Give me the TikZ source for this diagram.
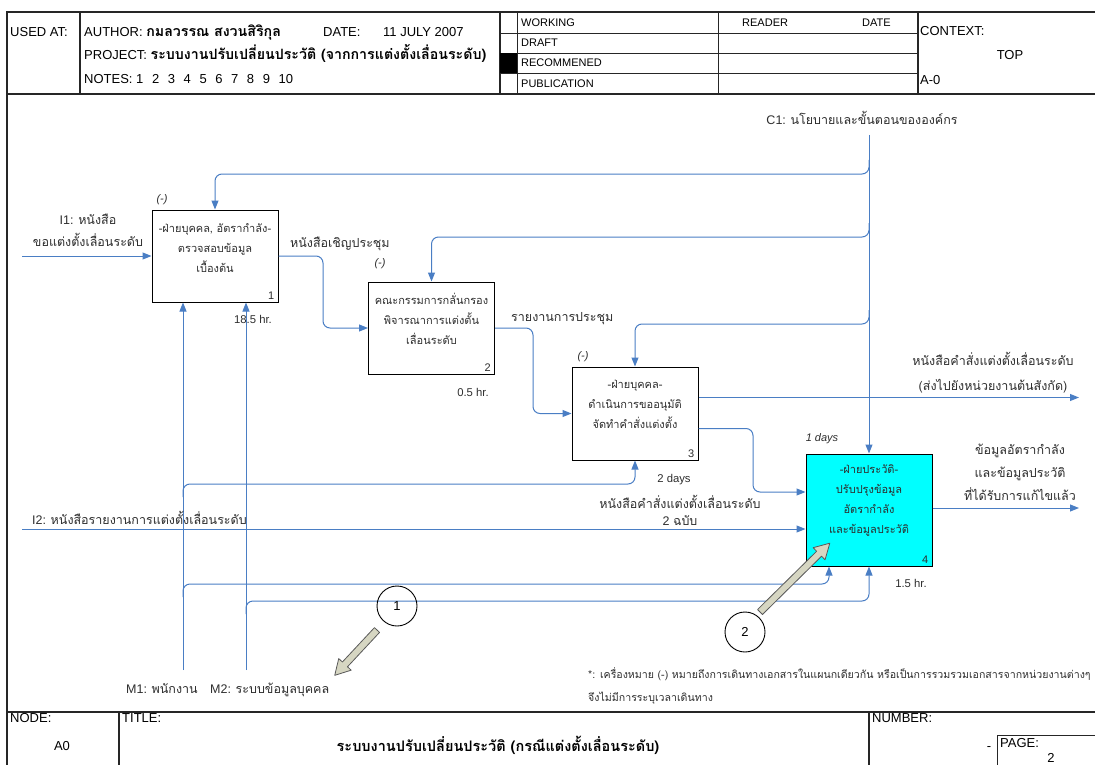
\documentclass[tikz,border=0pt]{standalone}
\usepackage{fontspec}
\setmainfont{Liberation Sans}
\newfontfamily\thfont[Script=Thai]{Loma}
\newcommand{\thtxt}[1]{{\thfont #1}}
\newcommand{\thbold}[1]{{\thfont\bfseries\fontsize{14.2}{15}\selectfont #1}}
\definecolor{flowblue}{RGB}{74,126,196}
\definecolor{ink}{RGB}{45,45,45}
\definecolor{hilite}{RGB}{0,255,255}
\definecolor{pointerfill}{RGB}{214,214,194}
\usetikzlibrary{arrows.meta,calc}

\begin{document}
\begin{tikzpicture}[x=1pt,y=-1pt,
    rule/.style={draw=black!85, line width=1.1pt},
    thin rule/.style={draw=black!85, line width=0.8pt},
    hdr/.style={anchor=base west, inner sep=0pt, font=\fontsize{13}{15}\selectfont},
    cell/.style={anchor=base west, inner sep=0pt, font=\fontsize{11}{12}\selectfont},
    act/.style={draw=black, line width=1pt, minimum width=126pt},
    acttext/.style={align=center, inner sep=0pt, text=ink, font=\thfont\fontsize{11}{20}\selectfont},
    num/.style={anchor=south east, inner sep=0pt, text=ink, font=\fontsize{11}{12}\selectfont},
    link/.style={draw=flowblue, line width=1pt, rounded corners=7pt, -{Triangle[length=9pt,width=7pt]}},
    tag/.style={inner sep=0pt, text=ink, font=\thfont\fontsize{12.5}{15}\selectfont},
    time/.style={anchor=base, inner sep=0pt, text=ink, font=\fontsize{11.3}{12}\selectfont},
    samedept/.style={anchor=base, inner sep=0pt, text=ink, font=\itshape\fontsize{11}{12}\selectfont},
    callout/.style={draw=black, line width=0.9pt, circle, minimum size=40pt, inner sep=0pt, font=\fontsize{13}{14}\selectfont},
    pointer/.style={draw=black!65, fill=pointerfill, line width=0.8pt, line join=round}
  ]
  \useasboundingbox (0,0) rectangle (1095,765);

  % form frame
  \draw[rule] (7,790) -- (7,12) -- (1120,12);
  \draw[rule] (7,94) -- (1120,94);
  \draw[rule] (7,712) -- (1120,712);
  \draw[rule] (80,12) -- (80,94);
  \draw[rule] (500,12) -- (500,94);
  \draw[thin rule] (517,12) -- (517,94);
  \draw[thin rule] (718,12) -- (718,94);
  \draw[rule] (918,12) -- (918,94);
  \foreach \r in {33,53,73}
    \draw[thin rule] (500,\r) -- (918,\r);
  \fill[black] (500,53) rectangle (517,73);
  \draw[rule] (119,712) -- (119,790);
  \draw[rule] (869,712) -- (869,790);
  \draw[thin rule] (997,790) -- (997,735) -- (1120,735);

  % header texts
  \node[hdr] (usedat) at (10,36.5) {USED AT:};
  \node[hdr] (author) at (84,36.5) {AUTHOR: \thbold{กมลวรรณ สงวนสิริกุล}};
  \node[hdr] (datekey) at (323,36.5) {DATE:};
  \node[hdr] (dateval) at (383,36.5) {11 JULY 2007};
  \node[hdr] (project) at (84,59.5) {PROJECT: \thbold{ระบบงานปรับเปลี่ยนประวัติ (จากการแต่งตั้งเลื่อนระดับ)}};
  \node[hdr] (notes) at (84,83.5) {NOTES: 1\hspace{8.6pt}2\hspace{8.6pt}3\hspace{8.6pt}4\hspace{8.6pt}5\hspace{8.6pt}6\hspace{8.6pt}7\hspace{8.6pt}8\hspace{8.6pt}9\hspace{8.6pt}10};
  \node[cell] (working) at (521,26.5) {WORKING};
  \node[cell] (draft) at (521,47) {DRAFT};
  \node[cell] (recom) at (521,67) {RECOMMENED};
  \node[cell] (public) at (521,87.5) {PUBLICATION};
  \node[cell] (reader) at (742,26.5) {READER};
  \node[cell] (rdate) at (862,26.5) {DATE};
  \node[hdr] (context) at (920,36) {CONTEXT:};
  \node[hdr, anchor=base] (top) at (1010,60) {TOP};
  \node[hdr] (azero) at (920,84.5) {A-0};

  % footer texts
  \node[hdr] (nodekey) at (10,722) {NODE:};
  \node[hdr, anchor=base] (nodeval) at (62,750) {A0};
  \node[hdr] (titlekey) at (122,722) {TITLE:};
  \node[hdr, anchor=base] (titleval) at (498,751) {\thfont\bfseries\fontsize{14.5}{16}\selectfont ระบบงานปรับเปลี่ยนประวัติ (กรณีแต่งตั้งเลื่อนระดับ)};
  \node[hdr] (numkey) at (872,722) {NUMBER:};
  \node[hdr, anchor=base] (dashval) at (989,750) {-};
  \node[hdr] (pagekey) at (1000,747) {PAGE:};
  \node[hdr, anchor=base] (pageval) at (1051,762.5) {2};

  % activities
  \node[act, minimum height=92pt] (b1) at (215,256) {};
  \node[act, minimum height=92pt] (b2) at (431.5,328) {};
  \node[act, minimum height=93pt] (b3) at (635,413.5) {};
  \node[act, fill=hilite, minimum height=112pt] (b4) at (869,510) {};
  \node[acttext] (t1) at (215,248) {-ฝ่ายบุคคล, อัตรากำลัง-\\ตรวจสอบข้อมูล\\เบื้องต้น};
  \node[acttext] (t2) at (431.5,319) {คณะกรรมการกลั่นกรอง\\พิจารณาการแต่งตั้น\\เลื่อนระดับ};
  \node[acttext] (t3) at (635,404.5) {-ฝ่ายบุคคล-\\ดำเนินการขออนุมัติ\\จัดทำคำสั่งแต่งตั้ง};
  \node[acttext] (t4) at (869,501) {-ฝ่ายประวัติ-\\ปรับปรุงข้อมูล\\อัตรากำลัง\\และข้อมูลประวัติ};
  \node[num] (n1) at ([shift={(-4,-3)}]b1.south east) {1};
  \node[num] (n2) at ([shift={(-4,-3)}]b2.south east) {2};
  \node[num] (n3) at ([shift={(-4,-3)}]b3.south east) {3};
  \node[num] (n4) at ([shift={(-4,-3)}]b4.south east) {4};

  % control
  \coordinate (c1) at (869,135);
  \node[tag, anchor=base] (c1lbl) at (862,125) {\fontspec{Liberation Sans}C1: \thtxt{นโยบายและขั้นตอนขององค์กร}};
  \draw[link] (c1) -- (b4.north);
  \draw[link] (869,160) -- (869,174) -| (b1.north);
  \draw[link] (869,223) -- (869,237) -| (b2.north);
  \draw[link] (869,310) -- (869,324) -| (b3.north);

  % inputs and flows
  \coordinate (i1) at (22,256);
  \coordinate (i2) at (22,529);
  \coordinate (o1) at (1079,397.5);
  \coordinate (o2) at (1079,508);
  \draw[link] (i1) -- (b1.west);
  \draw[link] (b1.east) -- (323,256) |- (b2.west);
  \draw[link] (b2.east) -- (533,328) |- (b3.west);
  \draw[link] ([yshift=16pt]b3.east) -- (o1);
  \draw[link] ([yshift=-15pt]b3.east) -- (753,428.5) |- ([yshift=18pt]b4.west);
  \draw[link] (i2) -- (i2 -| b4.west);
  \draw[link] ([yshift=2pt]b4.east) -- (o2);

  % mechanisms
  \coordinate (m1) at (183,670);
  \coordinate (m2) at (246,670);
  \draw[link] (m1) -- (m1 |- b1.south);
  \draw[link] (m2) -- (m2 |- b1.south);
  \draw[link] (183,497) -- (183,484) -| (b3.south);
  \draw[link] (183,597) -- (183,584) -| ([xshift=-40pt]b4.south);
  \draw[link] (246,614) -- (246,601) -| (b4.south);

  % labels
  \node[tag, align=center, font=\thfont\fontsize{12.5}{22}\selectfont] (i1lbl) at (88,230) {\fontspec{Liberation Sans}I1: \thtxt{หนังสือ}\\ขอแต่งตั้งเลื่อนระดับ};
  \node[tag, anchor=base west] (f12) at (290,247) {หนังสือเชิญประชุม};
  \node[tag, anchor=base west] (f23) at (511,321) {รายงานการประชุม};
  \node[tag, anchor=base] (f34) at (680,508) {หนังสือคำสั่งแต่งตั้งเลื่อนระดับ};
  \node[tag, anchor=base] (i2qty) at (680,525) {\fontspec{Liberation Sans}2 \thtxt{ฉบับ}};
  \node[tag, anchor=base west] (i2lbl) at (32,524) {\fontspec{Liberation Sans}I2: \thtxt{หนังสือรายงานการแต่งตั้งเลื่อนระดับ}};
  \node[tag, align=center, font=\thfont\fontsize{12.5}{25}\selectfont] (o1lbl) at (993,373) {หนังสือคำสั่งแต่งตั้งเลื่อนระดับ\\(ส่งไปยังหน่วยงานต้นสังกัด)};
  \node[tag, align=center, font=\thfont\fontsize{12.5}{23}\selectfont] (o2lbl) at (1020,472) {ข้อมูลอัตรากำลัง\\และข้อมูลประวัติ\\ที่ได้รับการแก้ไขแล้ว};
  \node[tag, anchor=base west] (m1lbl) at (126,693) {\fontspec{Liberation Sans}M1: \thtxt{พนักงาน}};
  \node[tag, anchor=base west] (m2lbl) at (210,693) {\fontspec{Liberation Sans}M2: \thtxt{ระบบข้อมูลบุคคล}};
  \node[samedept] (d1) at (162,202) {(-)};
  \node[samedept] (d2) at (380,266) {(-)};
  \node[samedept] (d3) at (583,359) {(-)};
  \node[samedept] (d4) at (822,441) {1 days};
  \node[time] (h1) at (253,323) {18.5 hr.};
  \node[time] (h2) at (473,396) {0.5 hr.};
  \node[time] (h3) at (674,482) {2 days};
  \node[time] (h4) at (911,587) {1.5 hr.};

  % callouts
  \node[callout] (k1) at (397,606) {1};
  \node[callout] (k2) at (745,632) {2};
  \begin{scope}[shift={(377,630)}, rotate=227]
    \draw[pointer] (0,3.5) -- (47,3.5) -- (47,8.5) -- (62,0) -- (47,-8.5) -- (47,-3.5) -- (0,-3.5) -- cycle;
  \end{scope}
  \begin{scope}[shift={(760,612)}, rotate=44.6]
    \draw[pointer] (0,3.5) -- (83,3.5) -- (83,8.5) -- (98,0) -- (83,-8.5) -- (83,-3.5) -- (0,-3.5) -- cycle;
  \end{scope}

  % note
  \node[tag, anchor=base west, font=\thfont\fontsize{10.6}{12}\selectfont] (note1) at (588,678) {*: เครื่องหมาย (-) หมายถึงการเดินทางเอกสารในแผนกเดียวกัน หรือเป็นการรวมรวมเอกสารจากหน่วยงานต่างๆ};
  \node[tag, anchor=base west, font=\thfont\fontsize{10.6}{12}\selectfont] (note2) at (588,701) {จึงไม่มีการระบุเวลาเดินทาง};
\end{tikzpicture}
\end{document}
